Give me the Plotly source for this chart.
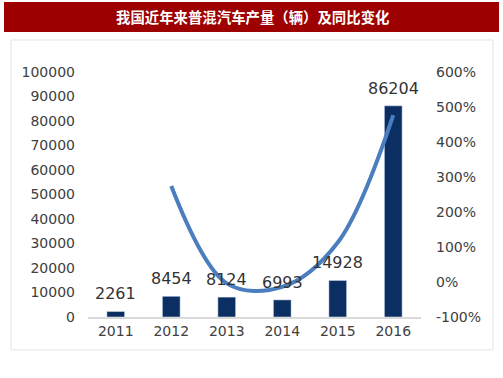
import plotly.graph_objects as go

years = ["2011", "2012", "2013", "2014", "2015", "2016"]
production = [2261, 8454, 8124, 6993, 14928, 86204]
yoy_years = ["2012", "2013", "2014", "2015", "2016"]
yoy = [2.74, -0.04, -0.14, 1.13, 4.77]
left_ticks = [0, 10000, 20000, 30000, 40000, 50000, 60000, 70000, 80000, 90000, 100000]
right_ticks = [-1, 0, 1, 2, 3, 4, 5, 6]
right_labels = ["-100%", "0%", "100%", "200%", "300%", "400%", "500%", "600%"]
title_text = "我国近年来普混汽车产量（辆）及同比变化"

FONT = "DejaVu Sans"
fig = go.Figure()
fig.add_trace(go.Bar(
    x=years, y=production, width=0.32, marker_color="#0b2f62",
    yaxis="y",
))
fig.add_trace(go.Scatter(
    x=yoy_years, y=yoy, mode="lines",
    line=dict(color="#4a7ebe", width=4, shape="spline", smoothing=1.0),
    yaxis="y2",
))

L, R, T, B = 88, 421, 72, 317
W, H = 503, 378

def px(x):
    return (x - L) / (R - L)

def py(y):
    return (B - y) / (B - T)

value_labels = [
    dict(text=str(v), x=i, y=v, xref="x", yref="y", showarrow=False,
         xanchor="center", yanchor="bottom", yshift=6,
         font=dict(family=FONT, size=16, color="#333333"))
    for i, v in enumerate(production)
]

fig.update_layout(
    width=W, height=H,
    margin=dict(l=L, r=W - R, t=T, b=H - B),
    paper_bgcolor="white", plot_bgcolor="white",
    showlegend=False,
    font=dict(family=FONT, color="#404040", size=14),
    xaxis=dict(type="category", categoryorder="array", categoryarray=years,
               showline=True, linecolor="#d9d9d9", linewidth=2, ticks="",
               tickfont=dict(size=14), showgrid=False, zeroline=False),
    yaxis=dict(range=[0, 100000], tickvals=left_ticks,
               ticktext=[str(v) for v in left_ticks], showgrid=False, zeroline=False,
               showline=False, tickfont=dict(size=14), ticklabelstandoff=12),
    yaxis2=dict(range=[-1, 6], tickvals=right_ticks, ticktext=right_labels,
                overlaying="y", side="right", showgrid=False, zeroline=False,
                showline=False, tickfont=dict(size=14), ticklabelstandoff=14),
    shapes=[
        dict(type="rect", xref="paper", yref="paper",
             x0=px(4), x1=px(499), y0=py(32), y1=py(2),
             fillcolor="#9c0000", line=dict(width=0), layer="below"),
        dict(type="rect", xref="paper", yref="paper",
             x0=px(11), x1=px(493), y0=py(350), y1=py(40),
             fillcolor="rgba(0,0,0,0)", line=dict(color="#e3e3e3", width=1), layer="below"),
    ],
    annotations=value_labels + [
        dict(text="<b>" + title_text + "</b>", xref="paper", yref="paper",
             x=px(252), y=py(17), showarrow=False, xanchor="center", yanchor="middle",
             font=dict(family="Noto Sans CJK SC", size=14.4, color="white")),
    ],
)

fig.write_html("out.html", config={"displayModeBar": False},
               post_script="document.body.style.margin='0';document.body.style.overflow='hidden';")
